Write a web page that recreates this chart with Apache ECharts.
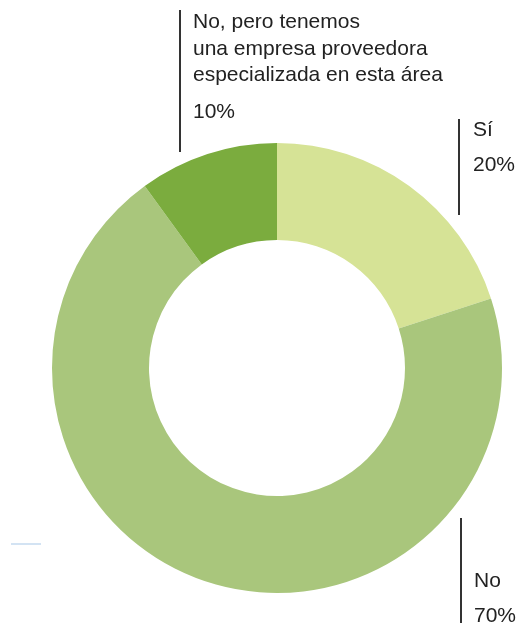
<!DOCTYPE html>
<html>
<head>
<meta charset="utf-8">
<script src="https://cdn.jsdelivr.net/npm/echarts@6/dist/echarts.min.js"></script>
<style>
  html, body { margin: 0; padding: 0; background: #fff; }
  #chart { width: 517px; height: 628px; }
</style>
</head>
<body>
<div id="chart"></div>
<script>
// datos
const categories = ['Sí', 'No', 'No, pero tenemos\nuna empresa proveedora\nespecializada en esta área']
const values = [20, 70, 10]
const colors = ['#d6e396', '#a9c67c', '#7bac3e']

const chart = echarts.init(document.getElementById('chart'))

const font = '"Liberation Sans", Arial, sans-serif'
const label = (x, y, text) => ({
  type: 'text',
  x: x,
  y: y,
  style: {
    text: text,
    fill: '#222',
    font: '21px ' + font,
    textVerticalAlign: 'middle',
    lineHeight: 26.5
  }
})
const vline = (x, y1, y2) => ({
  type: 'line',
  shape: { x1: x, y1: y1, x2: x, y2: y2 },
  style: { stroke: '#333', lineWidth: 2 }
})

chart.setOption({
  animation: false,
  series: [{
    type: 'pie',
    center: [277, 368],
    radius: [128, 225],
    startAngle: 90,
    clockwise: true,
    label: { show: false },
    labelLine: { show: false },
    emphasis: { disabled: true },
    itemStyle: { borderWidth: 0 },
    data: values.map((v, i) => ({
      value: v,
      name: categories[i],
      itemStyle: { color: colors[i] }
    }))
  }],
  graphic: [
    // No, pero...
    vline(180, 10, 152),
    label(193, 49, categories[2]),
    label(193, 112, values[2] + '%'),
    // Sí
    vline(459, 119, 215),
    label(473, 130, categories[0]),
    label(473, 165, values[0] + '%'),
    // No
    vline(461, 518, 623),
    label(474, 581, categories[1]),
    label(474, 616, values[1] + '%'),
    // trazo azul
    {
      type: 'line',
      shape: { x1: 11, y1: 544, x2: 41, y2: 544 },
      style: { stroke: '#d3e3f3', lineWidth: 2 }
    }
  ]
})
</script>
</body>
</html>
